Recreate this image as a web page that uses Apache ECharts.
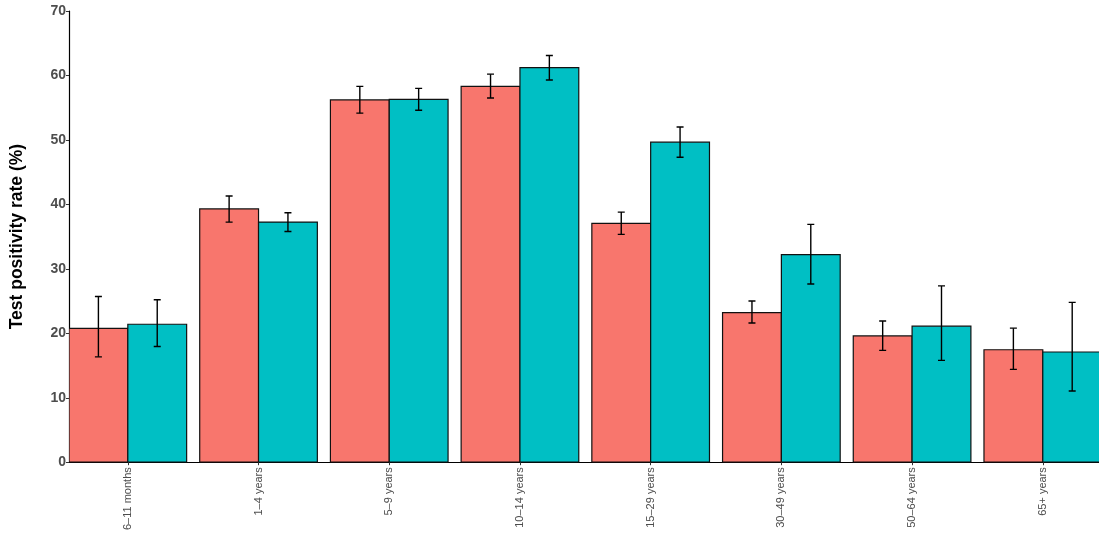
<!DOCTYPE html>
<html>
<head>
<meta charset="utf-8">
<script src="https://cdn.jsdelivr.net/npm/echarts@6/dist/echarts.min.js"></script>
<style>
  html, body { margin: 0; padding: 0; background: #fff; }
  #main { width: 1099px; height: 533px; }
</style>
</head>
<body>
<div id="main"></div>
<script>
// age groups on the x axis
var categories = ['6\u201311 months', '1\u20134 years', '5\u20139 years', '10\u201314 years',
  '15\u201329 years', '30\u201349 years', '50\u201364 years', '65+ years']
var yTicks = [0, 10, 20, 30, 40, 50, 60, 70]

// first group (red)
var redRate = [20.75, 39.3, 56.2, 58.3, 37.05, 23.2, 19.6, 17.45]
var redLow = [16.35, 37.25, 54.15, 56.5, 35.35, 21.6, 17.35, 14.4]
var redHigh = [25.7, 41.3, 58.3, 60.2, 38.8, 25.0, 21.9, 20.8]

// second group (teal)
var tealRate = [21.4, 37.25, 56.3, 61.2, 49.65, 32.2, 21.1, 17.1]
var tealLow = [17.95, 35.8, 54.6, 59.3, 47.3, 27.65, 15.8, 11.05]
var tealHigh = [25.2, 38.7, 58.0, 63.1, 52.0, 36.9, 27.35, 24.8]

var positions = categories.map(function (c, i) { return i + 1 })

function buildData (rate, low, high) {
  return positions.map(function (p, i) {
    return [p, rate[i], low[i], high[i]]
  })
}

// side: -1 left half of the slot, 0 right half
function makeRender (side, color) {
  return function (params, api) {
    var x = api.value(0)
    var v = api.value(1)
    var lo = api.value(2)
    var hi = api.value(3)
    var x0 = x + side * 0.45
    var x1 = x0 + 0.45
    var p0 = api.coord([x0, v])
    var p1 = api.coord([x1, 0])
    var mid = api.coord([(x0 + x1) / 2, hi])
    var low = api.coord([(x0 + x1) / 2, lo])
    var cap = 3.5
    var lineStyle = { stroke: '#000', lineWidth: 1.4 }
    return {
      type: 'group',
      children: [
        {
          type: 'rect',
          shape: { x: p0[0], y: p0[1], width: p1[0] - p0[0], height: p1[1] - p0[1] },
          style: { fill: color, stroke: '#111', lineWidth: 1.2 }
        },
        { type: 'line', shape: { x1: mid[0], y1: mid[1], x2: low[0], y2: low[1] }, style: lineStyle },
        { type: 'line', shape: { x1: mid[0] - cap, y1: mid[1], x2: mid[0] + cap, y2: mid[1] }, style: lineStyle },
        { type: 'line', shape: { x1: low[0] - cap, y1: low[1], x2: low[0] + cap, y2: low[1] }, style: lineStyle }
      ]
    }
  }
}

var chart = echarts.init(document.getElementById('main'))
var option = {
  animation: false,
  backgroundColor: '#fff',
  grid: { left: 69, right: 0, top: 11, bottom: 70 },
  xAxis: {
    type: 'value',
    min: 0.55,
    max: 8.43,
    splitLine: { show: false },
    axisLine: { show: true, lineStyle: { color: '#000', width: 1.2 } },
    axisTick: { show: true, customValues: positions, length: 3, lineStyle: { color: '#333' } },
    axisLabel: {
      customValues: positions,
      rotate: 90,
      margin: 5,
      color: '#4d4d4d',
      fontFamily: 'Liberation Sans',
      fontSize: 11,
      formatter: function (v) { return categories[Math.round(v) - 1] || '' }
    }
  },
  yAxis: {
    type: 'value',
    min: yTicks[0],
    max: yTicks[yTicks.length - 1],
    interval: 10,
    name: 'Test positivity rate (%)',
    nameLocation: 'middle',
    nameGap: 43,
    nameTextStyle: { color: '#000', fontSize: 17.5, fontWeight: 'bold', fontFamily: 'Liberation Sans' },
    splitLine: { show: false },
    axisLine: { show: true, lineStyle: { color: '#000', width: 1.2 } },
    axisTick: { show: true, length: 3, lineStyle: { color: '#333' } },
    axisLabel: { color: '#4d4d4d', fontSize: 14, fontWeight: 'bold', fontFamily: 'Liberation Sans', margin: 3 }
  },
  series: [
    {
      name: 'Group 1',
      type: 'custom',
      clip: true,
      renderItem: makeRender(-1, '#F8766D'),
      encode: { x: 0, y: [1, 2, 3] },
      data: buildData(redRate, redLow, redHigh)
    },
    {
      name: 'Group 2',
      type: 'custom',
      clip: true,
      renderItem: makeRender(0, '#00BFC4'),
      encode: { x: 0, y: [1, 2, 3] },
      data: buildData(tealRate, tealLow, tealHigh)
    }
  ]
}
chart.setOption(option)
</script>
</body>
</html>
